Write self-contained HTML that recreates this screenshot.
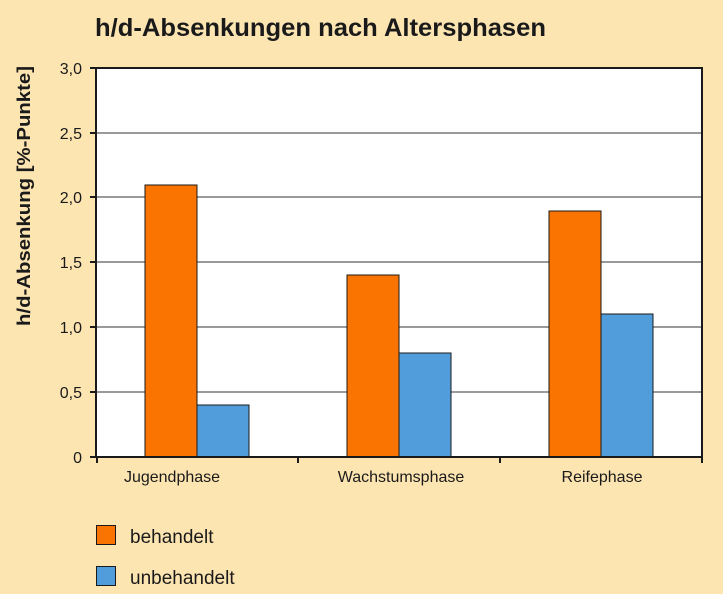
<!DOCTYPE html>
<html><head><meta charset="utf-8"><style>
body{margin:0;background:#fde5b2;}
svg{display:block;font-family:"Liberation Sans",sans-serif;}
</style></head><body>
<svg width="723" height="594" viewBox="0 0 723 594">
<rect width="723" height="594" fill="#fde5b2"/>
<text x="95" y="36" font-size="25" font-weight="bold" fill="#1a1a1a" textLength="451" lengthAdjust="spacingAndGlyphs">h/d-Absenkungen nach Altersphasen</text>
<rect x="97" y="68" width="605" height="389" fill="#fff"/>
<g stroke="#999" stroke-width="2">
<line x1="97" y1="392" x2="702" y2="392"/><line x1="97" y1="327" x2="702" y2="327"/>
<line x1="97" y1="262" x2="702" y2="262"/><line x1="97" y1="197" x2="702" y2="197"/>
<line x1="97" y1="133" x2="702" y2="133"/>
</g>
<g stroke="#1a1a1a" stroke-width="1">
<rect x="145" y="185" width="52" height="272" fill="#f97400"/>
<rect x="197" y="405" width="52" height="52" fill="#519ddb"/>
<rect x="347" y="275" width="52" height="182" fill="#f97400"/>
<rect x="399" y="353" width="52" height="104" fill="#519ddb"/>
<rect x="549" y="211" width="52" height="246" fill="#f97400"/>
<rect x="601" y="314" width="52" height="143" fill="#519ddb"/>
</g>
<g stroke="#1a1a1a" stroke-width="2" fill="none">
<path d="M96 68 H702 V457 M96 67 V457 H703"/>
<path d="M90 68H96M90 133H96M90 197H96M90 262H96M90 327H96M90 392H96M90 457H96"/>
<path d="M97 457V463M298 457V463M500 457V463M702 457V463"/>
</g>
<g font-size="16" fill="#1a1a1a" text-anchor="end">
<text x="82" y="74">3,0</text><text x="82" y="139">2,5</text><text x="82" y="203">2,0</text>
<text x="82" y="268">1,5</text><text x="82" y="333">1,0</text><text x="82" y="398">0,5</text>
<text x="82" y="463">0</text>
</g>
<g font-size="16" fill="#1a1a1a" text-anchor="middle">
<text x="172" y="482">Jugendphase</text><text x="401" y="482">Wachstumsphase</text><text x="602" y="482">Reifephase</text>
</g>
<text transform="translate(30,196) rotate(-90)" font-size="18" font-weight="bold" fill="#1a1a1a" text-anchor="middle" textLength="260" lengthAdjust="spacingAndGlyphs">h/d-Absenkung [%-Punkte]</text>
<rect x="96.5" y="525.5" width="19" height="19" fill="#f97400" stroke="#1a1a1a"/>
<rect x="96.5" y="566.5" width="19" height="19" fill="#519ddb" stroke="#1a1a1a"/>
<g font-size="19" fill="#1a1a1a">
<text x="130" y="543">behandelt</text><text x="130" y="584">unbehandelt</text>
</g>
</svg>
</body></html>
